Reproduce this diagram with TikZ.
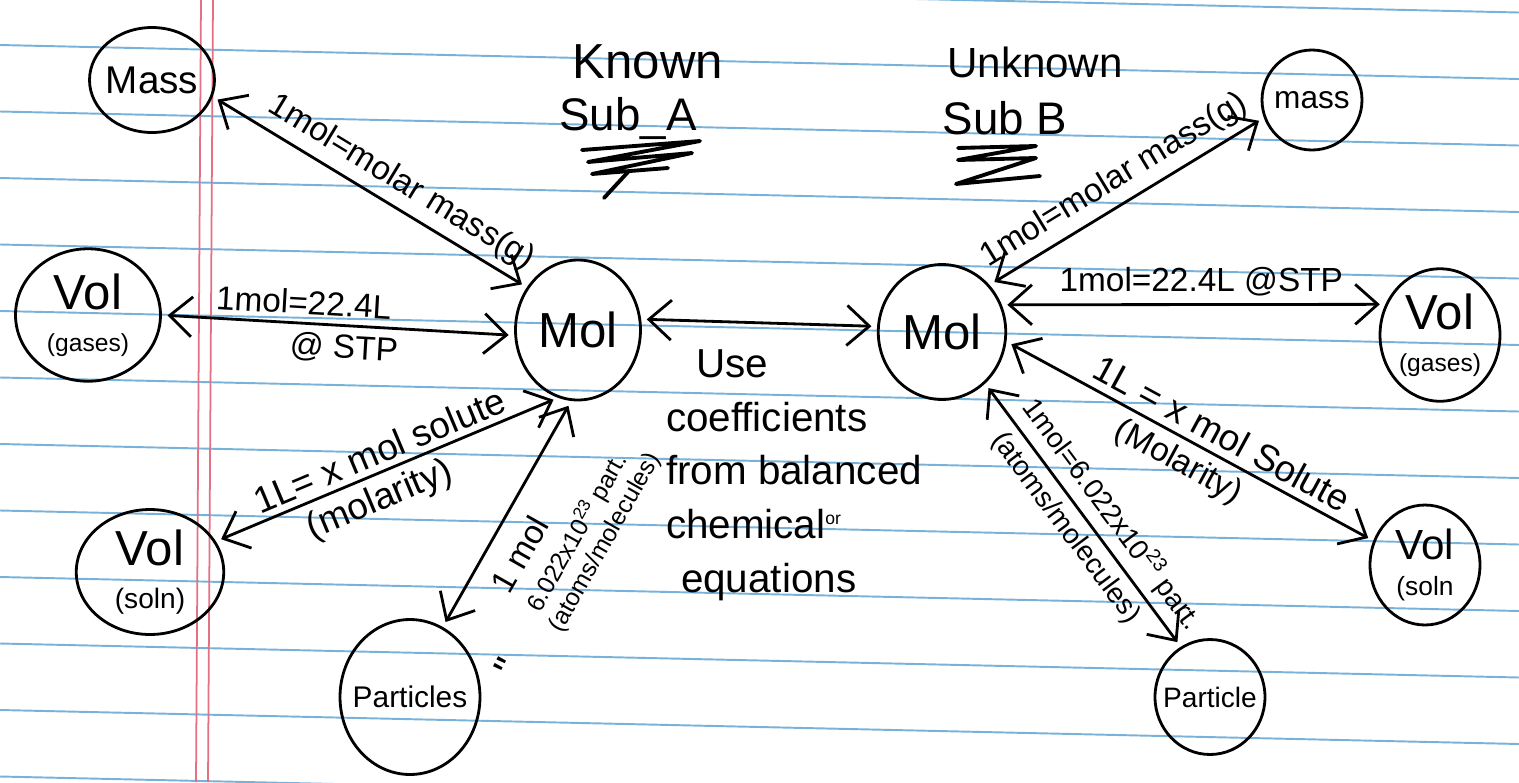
\documentclass[tikz,border=0pt]{standalone}
\usepackage{fontspec}
\setmainfont{Liberation Sans}
\usepackage{tikz}
\usetikzlibrary{positioning}
\usetikzlibrary{arrows.meta,shapes.geometric}
\definecolor{ruleblue}{RGB}{120,178,218}
\definecolor{marginred}{RGB}{228,112,132}
\tikzset{
    %Define standard arrow tip
    >={Straight Barb[length=4.5mm,width=8mm]},
    % Define conversion arrow style
    conv/.style={
           <->,
           line width=1.6pt,
           shorten <=4pt,
           shorten >=4pt,}
}
\newcommand{\lblsize}{\fontsize{19}{22}\selectfont}
\newcommand{\biglblsize}{\fontsize{21}{24}\selectfont}
\newcommand{\qtysize}{\fontsize{28}{30}\selectfont}
\newcommand{\smallsize}{\fontsize{14}{16}\selectfont}

\begin{document}
\begin{tikzpicture}[x=0.02cm, y=-0.02cm, outer sep=0pt]
\tikzstyle{qty}=[draw, ellipse, line width=1.6pt, inner sep=-10pt, align=center, font=\qtysize]
\tikzstyle{lbl}=[font=\lblsize, inner sep=2pt, sloped]
\tikzstyle{hand}=[font=\fontsize{26}{30}\selectfont, inner sep=0pt]
\tikzstyle{scribble}=[line width=2.2pt, line join=round, line cap=round]

% paper
\fill[white] (0,0) rectangle (1519,782);
\useasboundingbox (0,0) rectangle (1519,782);
\begin{scope}
\clip (0,0) rectangle (1519,782);
\foreach \k in {-1,...,11}
  \draw[ruleblue, line width=1.1pt] (0,45+66.5*\k) -- (1519,79+66.5*\k);
\draw[marginred, line width=1pt] (201,0) -- (196,782);
\draw[marginred, line width=1pt] (213,0) -- (208,782);
\end{scope}

% known substance
\node[qty, minimum width=2.5cm, minimum height=2.1cm, font=\fontsize{22}{24}\selectfont] (massA) at (152,80) {Mass};
\node[qty, minimum width=2.9cm, minimum height=2.65cm] (volgA) at (88,315) {Vol\\[-6pt]{\smallsize (gases)}};
\node[qty, minimum width=2.5cm, minimum height=2.8cm] (molA) at (578,330) {Mol};
\node[qty, minimum width=2.95cm, minimum height=2.5cm] (volsA) at (150,572) {Vol\\[-6pt]{\fontsize{16}{18}\selectfont (soln)}};
\node[qty, minimum width=2.8cm, minimum height=3.1cm, font=\fontsize{17}{20}\selectfont] (partA) at (410,697) {Particles};

% unknown substance
\node[qty, minimum width=2.55cm, minimum height=2.7cm] (molB) at (942,332) {Mol};
\node[qty, minimum width=2.0cm, minimum height=2.0cm, font=\fontsize{18}{20}\selectfont] (massB) at (1312,100) {mass};
\node[qty, minimum width=2.4cm, minimum height=2.65cm] (volgB) at (1440,335) {Vol\\[-6pt]{\smallsize (gases)}};
\node[qty, minimum width=2.2cm, minimum height=2.4cm, font=\fontsize{24}{26}\selectfont] (volsB) at (1425,565) {Vol\\[-6pt]{\fontsize{15}{17}\selectfont (soln}};
\node[qty, minimum width=2.2cm, minimum height=2.3cm, font=\fontsize{16}{18}\selectfont] (partB) at (1210,697) {Particle};

% headings
\node[hand, font=\fontsize{28}{30}\selectfont] (known) at (648,62) {Known};
\node[hand] (subA) at (628,118) {Sub\_A};
\node[hand, font=\fontsize{24}{28}\selectfont] (unknown) at (1035,62) {Unknown};
\node[hand] (subB) at (1005,118) {Sub B};
\draw[scribble] (582,150) -- (700,141) -- (588,162) -- (692,153) -- (592,174) -- (668,168);
\draw[scribble] (628,172) -- (604,198);
\draw[scribble] (958,148) -- (1036,146) -- (958,160) -- (1036,158) -- (956,184) -- (1040,176);

% note
\node[hand, font=\fontsize{23}{30.5}\selectfont, align=left, anchor=north west] (note) at (666,350)
  {\hspace{0.6cm}Use\\coefficients\\from balanced\\chemical\raisebox{8pt}{\fontsize{10}{10}\selectfont or}\\\hspace{0.3cm}equations};

% conversions
\path[conv] (massA.-15) edge node[lbl, above=3pt, pos=0.56] {1mol=molar mass(g)} (molA.140);
\path[conv] (volgA.0) edge node[lbl, above=3pt, pos=0.4] {1mol=22.4L} node[lbl, below=3pt, pos=0.52] {@ STP} (molA.185);
\path[conv] (molA.10) edge (molB.175);
\path[conv] (volsA.25) edge node[lbl, above=2pt, pos=0.5, font=\biglblsize] {1L= x mol solute} node[lbl, below=3pt, pos=0.45, font=\biglblsize] {(molarity)} (molA.-105);
\path[conv] (partA.65) edge node[lbl, anchor=center, pos=0.39, yshift=-0.62cm] {1 mol}
  node[lbl, anchor=center, pos=0.57, yshift=-1.4cm, font=\smallsize] {6.022x10\textsuperscript{23} part.}
  node[lbl, anchor=center, pos=0.59, yshift=-2.0cm, font=\smallsize] {(atoms/molecules)} (molA.-95);
\node[hand, font=\fontsize{24}{26}\selectfont, rotate=63] (ditto) at (509,668) {\textquotedbl};

\path[conv] (molB.45) edge node[lbl, above=3pt, pos=0.5] {1mol=molar mass(g)} (massB.-160);
\path[conv] (molB.25) edge node[lbl, above=3pt, pos=0.52] {1mol=22.4L @STP} (volgB.150);
\path[conv] (molB.-8) edge node[lbl, above=3pt, pos=0.56, font=\biglblsize] {1L = x mol Solute} node[lbl, below=3pt, pos=0.5] {(Molarity)} (volsB.155);
\path[conv] (molB.-50) edge node[lbl, above=3pt, pos=0.55, font=\fontsize{16}{18}\selectfont] {1mol=6.022x10\textsuperscript{23} part.}
  node[lbl, below=3pt, pos=0.5, font=\fontsize{16}{18}\selectfont] {(atoms/molecules)} (partB.120);
\end{tikzpicture}
\end{document}
